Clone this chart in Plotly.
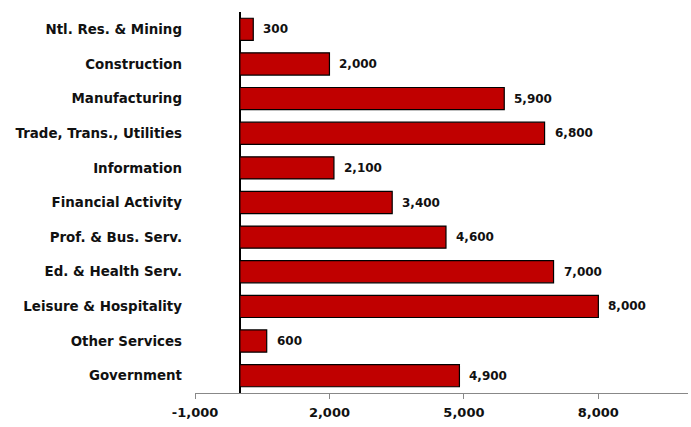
import plotly.graph_objects as go

categories = ["Ntl. Res. & Mining", "Construction", "Manufacturing", "Trade, Trans., Utilities",
              "Information", "Financial Activity", "Prof. & Bus. Serv.", "Ed. & Health Serv.",
              "Leisure & Hospitality", "Other Services", "Government"]
values = [300, 2000, 5900, 6800, 2100, 3400, 4600, 7000, 8000, 600, 4900]
tick_vals = [-1000, 2000, 5000, 8000]
tick_text = ["-1,000", "2,000", "5,000", "8,000"]

font_fam = "Verdana, DejaVu Sans, sans-serif"

fig = go.Figure(go.Bar(
    y=categories, x=values, orientation="h",
    marker=dict(color="#C00000", line=dict(color="black", width=1.2)),
    width=0.64,
))

for c, v in zip(categories, values):
    fig.add_annotation(x=v, y=c, text=f"{v:,}", showarrow=False, xanchor="left",
                       xshift=8, font=dict(family=font_fam, size=12, color="#111"))

fig.update_layout(
    width=691, height=427,
    margin=dict(l=195, r=3, t=12, b=34),
    plot_bgcolor="white", paper_bgcolor="white",
    showlegend=False,
    font=dict(family=font_fam, color="#111"),
)
fig.update_xaxes(range=[-1000, 10000], tickvals=tick_vals, ticktext=tick_text,
                 showgrid=False, zeroline=True, zerolinecolor="black", zerolinewidth=1.5,
                 showline=True, linecolor="#888", linewidth=1,
                 ticks="outside", ticklen=5, tickcolor="#888",
                 ticklabelstandoff=2,
                 tickfont=dict(family=font_fam, size=13, color="#111", weight="bold"))
fig.update_yaxes(autorange="reversed", showgrid=False, ticks="", showline=False,
                 ticklabelstandoff=12,
                 tickfont=dict(family=font_fam, size=13.4, color="#111", weight="bold"))
fig.update_annotations(font_weight="bold")

fig.write_html("out.html")
